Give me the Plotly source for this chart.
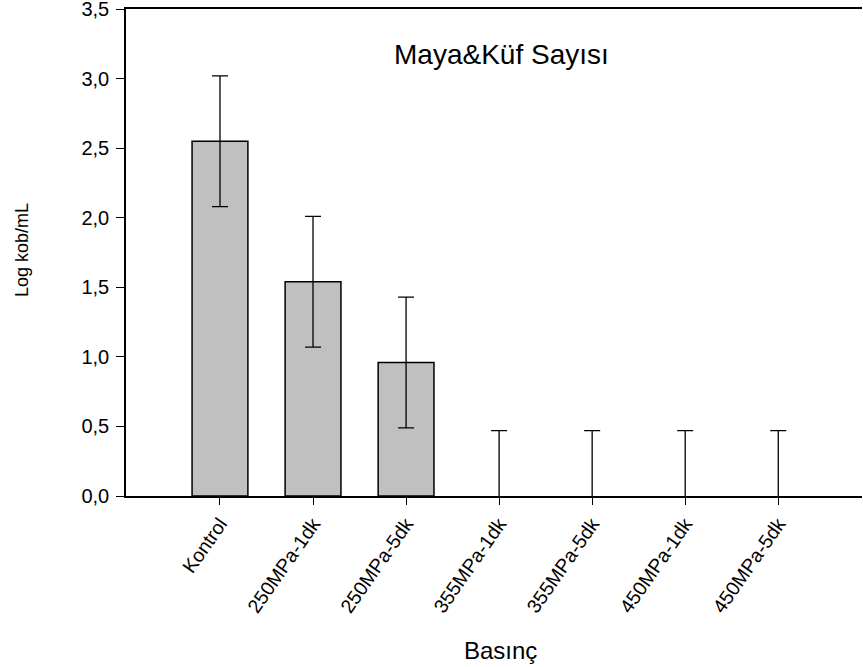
import plotly.graph_objects as go

categories = ["Kontrol", "250MPa-1dk", "250MPa-5dk", "355MPa-1dk", "355MPa-5dk", "450MPa-1dk", "450MPa-5dk"]
values = [2.55, 1.54, 0.96, 0.0, 0.0, 0.0, 0.0]
errors = [0.47, 0.47, 0.47, 0.47, 0.47, 0.47, 0.47]
y_ticks = [0.0, 0.5, 1.0, 1.5, 2.0, 2.5, 3.0, 3.5]

font_family = "Liberation Sans, Arial, sans-serif"

W, H = 863, 667
L, R, T, B = 126, 1, 9, 171
PW, PH = W - L - R, H - T - B

def px_to_paper_x(px):
    return (px - L) / PW

def px_to_paper_y(py):
    return 1 - (py - T) / PH

fig = go.Figure()
fig.add_trace(go.Bar(
    x=list(range(len(categories))),
    y=values,
    width=0.6,
    marker=dict(color="#c0c0c0",
                line=dict(color="black", width=[1.5 if v > 0 else 0 for v in values])),
    error_y=dict(type="data", array=errors, visible=True, color="black", thickness=1.3, width=8),
    showlegend=False,
))

fig.update_layout(
    width=W, height=H,
    margin=dict(l=L, r=R, t=T, b=B),
    paper_bgcolor="white", plot_bgcolor="white",
    separators=",.",
    font=dict(family=font_family, color="black", size=15),
    xaxis=dict(
        range=[-1.01, 6.9],
        tickmode="array",
        tickvals=list(range(len(categories))),
        ticktext=categories,
        tickangle=-55,
        ticks="outside", ticklen=7, tickwidth=1.3, tickcolor="black",
        showline=True, linecolor="black", linewidth=1.5, mirror=True,
        showgrid=False, zeroline=False,
        tickfont=dict(size=19.5),
        automargin=False,
    ),
    yaxis=dict(
        range=[0, 3.5],
        tickmode="array",
        tickvals=y_ticks,
        tickformat=".1f",
        ticks="outside", ticklen=8, tickwidth=1.3, tickcolor="black",
        showline=True, linecolor="black", linewidth=1.5, mirror=False,
        showgrid=False, zeroline=False,
        tickfont=dict(size=20),
        ticklabelstandoff=3,
        ticklabeloverflow="allow",
        automargin=False,
    ),
    annotations=[
        dict(text="Maya&Küf Sayısı", x=px_to_paper_x(501), y=px_to_paper_y(55),
             xref="paper", yref="paper", showarrow=False, font=dict(size=28),
             xanchor="center", yanchor="middle"),
        dict(text="Basınç", x=px_to_paper_x(500), y=px_to_paper_y(650),
             xref="paper", yref="paper", showarrow=False, font=dict(size=24),
             xanchor="center", yanchor="middle"),
        dict(text="Log kob/mL", x=px_to_paper_x(22), y=px_to_paper_y(250),
             xref="paper", yref="paper", showarrow=False, font=dict(size=18),
             textangle=-90, xanchor="center", yanchor="middle"),
    ],
)
fig.write_html("out.html", config={"displayModeBar": False},
               post_script="document.body.style.margin='0px';")
